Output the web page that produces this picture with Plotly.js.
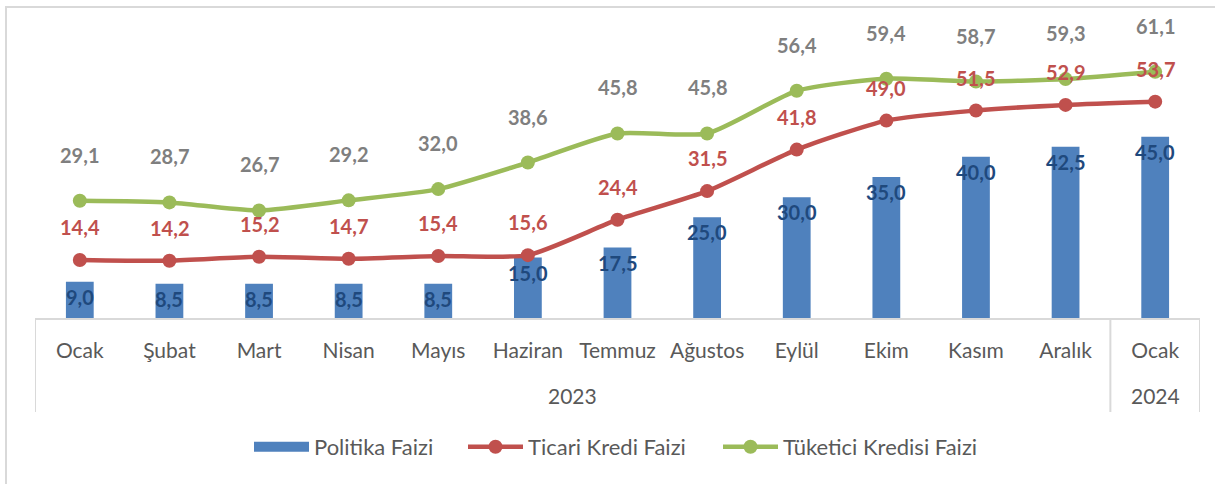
<!DOCTYPE html>
<html>
<head>
<meta charset="utf-8">
<script src="https://cdn.plot.ly/plotly-3.0.1.min.js"></script>
<style>
  html, body { margin: 0; padding: 0; background: #fff; }
  #frame { position: absolute; left: 5px; top: 6px; width: 1230px; height: 500px;
           border-left: 2px solid #D9D9D9; border-top: 2px solid #D9D9D9; }
  #chart { position: absolute; left: 0; top: 0; width: 1215px; height: 484px; }
</style>
</head>
<body>
<div id="frame"></div>
<div id="chart"></div>
<script>
const years = ["2023","2023","2023","2023","2023","2023","2023","2023","2023","2023","2023","2023","2024"];
const months = ["Ocak","Şubat","Mart","Nisan","Mayıs","Haziran","Temmuz","Ağustos","Eylül","Ekim","Kasım","Aralık","Ocak"];
const politikaFaizi = [9.0, 8.5, 8.5, 8.5, 8.5, 15.0, 17.5, 25.0, 30.0, 35.0, 40.0, 42.5, 45.0];
const ticariKredi = [14.4, 14.2, 15.2, 14.7, 15.4, 15.6, 24.4, 31.5, 41.8, 49.0, 51.5, 52.9, 53.7];
const tuketiciKredi = [29.1, 28.7, 26.7, 29.2, 32.0, 38.6, 45.8, 45.8, 56.4, 59.4, 58.7, 59.3, 61.1];
const seriesNames = ["Politika Faizi", "Ticari Kredi Faizi", "Tüketici Kredisi Faizi"];

const BLUE = "#4F81BD", RED = "#C0504D", GREEN = "#9BBB59";
const GRID = "#D9D9D9", TEXT = "#595959";
const FONT = "Lato, 'Open Sans', sans-serif";
const fmt = v => v.toFixed(1).replace(".", ",");
const idx = months.map((m, i) => i);

const traces = [
  { type: "bar", name: seriesNames[0], x: idx, y: politikaFaizi,
    marker: { color: BLUE }, showlegend: false, hoverinfo: "skip" },
  { type: "scatter", mode: "lines", name: seriesNames[0], x: [null], y: [null], legend: "legend",
    line: { color: BLUE, width: 13 }, showlegend: true, hoverinfo: "skip" },
  { type: "scatter", mode: "lines+markers", name: seriesNames[1], x: idx, y: ticariKredi,
    legend: "legend2",
    line: { color: RED, width: 4.5, shape: "spline", smoothing: 0.6 },
    marker: { color: RED, size: 14 } },
  { type: "scatter", mode: "lines+markers", name: seriesNames[2], x: idx, y: tuketiciKredi,
    legend: "legend3",
    line: { color: GREEN, width: 4.5, shape: "spline", smoothing: 0.6 },
    marker: { color: GREEN, size: 14 } }
];

const annotations = [];
const addLabels = (vals, color, yshift) => vals.forEach((v, i) => annotations.push({
  x: i, y: v, xref: "x", yref: "y", text: fmt(v), showarrow: false,
  yshift: yshift, font: { family: FONT, size: 20, color: color, weight: "bold" }
}));
addLabels(politikaFaizi, "#1F497D", -15);
addLabels(ticariKredi, RED, 33);
addLabels(tuketiciKredi, "#7F7F7F", 46);

// year groups (outer category level) and their dividers
const groups = [];
years.forEach((y, i) => {
  const g = groups[groups.length - 1];
  if (g && g.year === y) g.end = i; else groups.push({ year: y, start: i, end: i });
});
const shapes = [];
const addDivider = xv => shapes.push({
  type: "line", xref: "x", yref: "paper", ysizemode: "pixel", yanchor: 0,
  x0: xv, x1: xv, y0: 0, y1: -94, line: { color: GRID, width: 2 }
});
groups.forEach((g, k) => {
  if (k === 0) addDivider(g.start - 0.5);
  addDivider(g.end + 0.5);
  annotations.push({
    x: (g.start + g.end) / 2, y: 0, xref: "x", yref: "paper", yshift: -77,
    yanchor: "middle", text: g.year, showarrow: false,
    font: { family: FONT, size: 21, color: TEXT }
  });
});

const W = 1215, H = 484;
const legendAt = px => ({
  orientation: "h", x: px / W, xref: "container", xanchor: "left",
  y: 1 - 447 / H, yref: "container", yanchor: "middle",
  font: { size: 22, color: TEXT }, itemwidth: 55, bgcolor: "rgba(0,0,0,0)"
});

const layout = {
  width: W, height: H,
  margin: { l: 35, r: 15, t: 36, b: 166 },
  paper_bgcolor: "rgba(0,0,0,0)", plot_bgcolor: "rgba(0,0,0,0)",
  font: { family: FONT, size: 21, color: TEXT },
  bargap: 0.69,
  xaxis: { type: "linear", range: [-0.5, months.length - 0.5], tickmode: "array",
           tickvals: idx, ticktext: months, showline: true, linecolor: GRID, linewidth: 2,
           ticks: "", ticklabelstandoff: 13, showgrid: false, zeroline: false,
           tickfont: { size: 21, color: TEXT }, fixedrange: true },
  yaxis: { range: [0, 70], visible: false, fixedrange: true },
  legend: legendAt(249),
  legend2: legendAt(463),
  legend3: legendAt(718),
  showlegend: true,
  shapes: shapes,
  annotations: annotations
};

Plotly.newPlot("chart", traces, layout, { displayModeBar: false, staticPlot: true });
</script>
</body>
</html>
